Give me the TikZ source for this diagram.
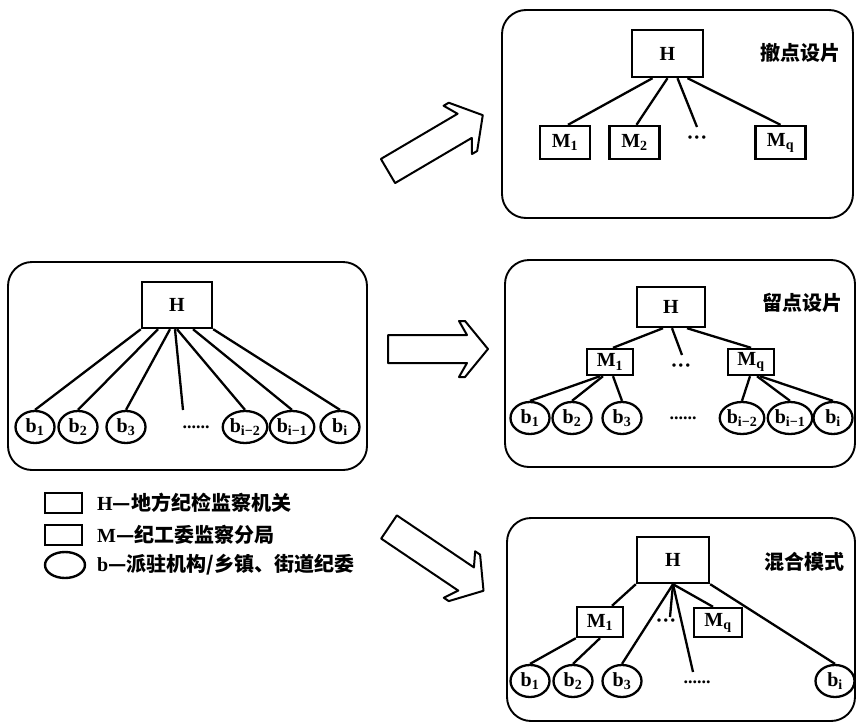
\documentclass[tikz,border=0pt]{standalone}
\usepackage{fontspec}
\setmainfont{Liberation Serif}
\newfontfamily\cjk{Noto Sans CJK SC}
\usetikzlibrary{shapes.geometric,calc}

\tikzset{
	panel/.style={draw, line width=1.9pt, rounded corners=24pt},
	hbox/.style={draw, line width=2.4pt, inner sep=0pt, minimum width=70pt, minimum height=46pt, font=\fontsize{20}{24}\selectfont\bfseries},
	mbox/.style={draw, line width=2.4pt, inner sep=0pt, minimum width=46pt, minimum height=30pt, font=\fontsize{20}{24}\selectfont\bfseries},
	bnode/.style={draw, ellipse, line width=2.3pt, inner sep=0.5pt, minimum width=39pt, minimum height=32pt, font=\fontsize{20}{24}\selectfont\bfseries},
	keybox/.style={draw, line width=2.4pt, inner sep=0pt, minimum width=37pt, minimum height=20pt},
	link/.style={line width=2.3pt},
	paneltitle/.style={font=\fontsize{20}{24}\selectfont\cjk\bfseries},
	keytext/.style={anchor=west, inner sep=0pt, font=\fontsize{20}{24}\selectfont\bfseries},
	fewdots/.style={inner sep=0pt, font=\fontsize{21}{24}\selectfont\bfseries},
	manydots/.style={inner sep=0pt, font=\fontsize{18}{20}\selectfont\bfseries},
	fatarrow/.pic={
		\draw[line width=2pt, line join=round]
			(0,-14) -- (#1-21,-14) -- (#1-29,-28) -- (#1-23,-28) -- (#1,0)
			-- (#1-23,28) -- (#1-29,28) -- (#1-21,14) -- (0,14) -- cycle;
	}
}

\begin{document}
\begin{tikzpicture}[x=1pt,y=-1pt]
	\useasboundingbox (0,0) rectangle (857,723);

	% starting structure
	\draw[panel] (8,262) rectangle (367,470);
	\node[hbox] (H) at (177,305) {H};
	\node[bnode] (b1) at (35,427) {b\textsubscript{1}};
	\node[bnode] (b2) at (78,427) {b\textsubscript{2}};
	\node[bnode] (b3) at (126,427) {b\textsubscript{3}};
	\node[manydots] (dd) at (196,427) {......};
	\node[bnode] (bi2) at (245,427) {b\textsubscript{i−2}};
	\node[bnode] (bi1) at (292,427) {b\textsubscript{i−1}};
	\node[bnode] (bi) at (340,427) {b\textsubscript{i}};
	\coordinate (e) at (183,410);
	\draw[link] (H.south west) -- (b1.north);
	\draw[link] ($(H.south)+(-19,0)$) -- (b2.north);
	\draw[link] ($(H.south)+(-7,0)$) -- (b3.north);
	\draw[link] ($(H.south)+(-2,0)$) -- (e);
	\draw[link] (H.south) -- (bi2.north);
	\draw[link] ($(H.south)+(16,0)$) -- (bi1.north);
	\draw[link] (H.south east) -- (bi.north);

	% legend
	\node[keybox] (kH) at (63.5,503) {};
	\node[keybox] (kM) at (63.5,535) {};
	\node[keybox, ellipse, minimum width=40pt, minimum height=26pt] (kb) at (65,565) {};
	\node[keytext] (tH) at (97,503) {H{\cjk —地方纪检监察机关}};
	\node[keytext] (tM) at (97,535) {M{\cjk —纪工委监察分局}};
	\node[keytext] (tb) at (97,565) {b{\cjk —派驻机构/乡镇、街道纪委}};

	% the three arrows
	\pic[rotate=30.5] at (388,171) {fatarrow=110};
	\pic at (388,349) {fatarrow=100};
	\pic[rotate=-34] at (389,527) {fatarrow=114};

	% top: 撤点设片
	\draw[panel] (502,10) rectangle (853,218);
	\node[paneltitle] (ta) at (800,53) {撤点设片};
	\node[hbox, minimum width=71pt, minimum height=47pt] (Ha) at (667.5,53.5) {H};
	\node[mbox, minimum width=50pt, minimum height=33pt] (Ma1) at (565,142.5) {M\textsubscript{1}};
	\node[mbox, minimum width=50pt, minimum height=33pt] (Ma2) at (634.5,142.5) {M\textsubscript{2}};
	\node[fewdots] (da) at (697,140) {···};
	\node[mbox, minimum width=50pt, minimum height=33pt] (Maq) at (780.5,142.5) {M\textsubscript{q}};
	\coordinate (ea) at (697,127);
	\draw[link] ($(Ha.south)+(-15,0)$) -- ($(Ma1.north)+(3,0)$);
	\draw[link] (Ha.south) -- ($(Ma2.north)+(2,0)$);
	\draw[link] ($(Ha.south)+(10,0)$) -- (ea);
	\draw[link] ($(Ha.south)+(20,0)$) -- (Maq.north);

	% middle: 留点设片
	\draw[panel] (505,260) rectangle (855,467);
	\node[paneltitle] (tb) at (802,303) {留点设片};
	\node[hbox, minimum width=68pt, minimum height=40pt] (Hb) at (671,307) {H};
	\node[mbox, minimum height=26pt] (Mb1) at (610,362) {M\textsubscript{1}};
	\node[fewdots] (db) at (681,368) {···};
	\node[mbox, minimum height=26pt] (Mbq) at (751,362) {M\textsubscript{q}};
	\node[bnode] (bb1) at (530,418) {b\textsubscript{1}};
	\node[bnode] (bb2) at (572,418) {b\textsubscript{2}};
	\node[bnode] (bb3) at (622,418) {b\textsubscript{3}};
	\node[manydots] (ddb) at (683,418) {......};
	\node[bnode] (bbi2) at (742,418) {b\textsubscript{i−2}};
	\node[bnode] (bbi1) at (790,418) {b\textsubscript{i−1}};
	\node[bnode] (bbi) at (833,418) {b\textsubscript{i}};
	\coordinate (eb) at (682,355);
	\draw[link] ($(Hb.south)+(-8,0)$) -- ($(Mb1.north)+(3,0)$);
	\draw[link] ($(Hb.south)+(1,0)$) -- (eb);
	\draw[link] ($(Hb.south)+(16,0)$) -- (Mbq.north);
	\draw[link] ($(Mb1.south)+(-10,0)$) -- (bb1.north);
	\draw[link] ($(Mb1.south)+(-7,0)$) -- (bb2.north);
	\draw[link] ($(Mb1.south)+(3,0)$) -- (bb3.north);
	\draw[link] ($(Mbq.south)+(-1,0)$) -- (bbi2.north);
	\draw[link] ($(Mbq.south)+(6,0)$) -- (bbi1.north);
	\draw[link] ($(Mbq.south)+(9,0)$) -- (bbi.north);

	% bottom: 混合模式
	\draw[panel] (507,518) rectangle (855,721);
	\node[paneltitle] (tc) at (804,562) {混合模式};
	\node[hbox, minimum width=72pt] (Hc) at (673,560) {H};
	\node[mbox] (Mc1) at (600,622) {M\textsubscript{1}};
	\node[fewdots] (dc) at (666,623) {···};
	\node[mbox, minimum width=48pt, minimum height=29pt] (Mcq) at (718,622.5) {M\textsubscript{q}};
	\node[bnode] (bc1) at (530,681) {b\textsubscript{1}};
	\node[bnode] (bc2) at (573,681) {b\textsubscript{2}};
	\node[bnode] (bc3) at (622,681) {b\textsubscript{3}};
	\node[manydots] (ddc) at (697,682) {......};
	\node[bnode] (bci) at (835,681) {b\textsubscript{i}};
	\coordinate (ec1) at (670,617);
	\coordinate (ec2) at (693,672);
	\draw[link] (Hc.south west) -- ($(Mc1.north)+(12,0)$);
	\draw[link] (Hc.south) -- (bc3.north);
	\draw[link] (Hc.south) -- (ec1);
	\draw[link] (Hc.south) -- (ec2);
	\draw[link] (Hc.south) -- ($(Mcq.north)+(-5,0)$);
	\draw[link] (Hc.south east) -- (bci.north);
	\draw[link] (Mc1.south west) -- (bc1.north);
	\draw[link] (Mc1.south) -- (bc2.north);
\end{tikzpicture}
\end{document}
